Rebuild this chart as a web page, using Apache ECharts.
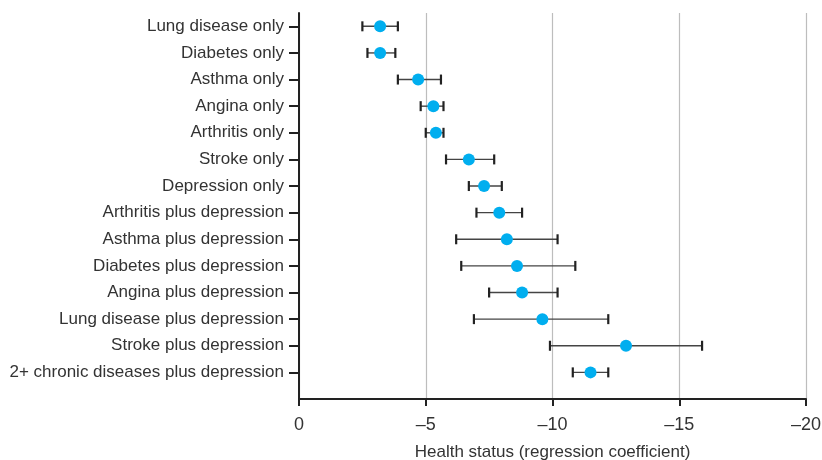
<!DOCTYPE html>
<html>
<head>
<meta charset="utf-8">
<script src="https://cdn.jsdelivr.net/npm/echarts@6/dist/echarts.min.js"></script>
<style>html,body{margin:0;padding:0;background:#fff}#c{width:822px;height:460px}</style>
</head>
<body>
<div id="c"></div>
<script>
const categories = [
  'Lung disease only','Diabetes only','Asthma only','Angina only','Arthritis only',
  'Stroke only','Depression only','Arthritis plus depression','Asthma plus depression',
  'Diabetes plus depression','Angina plus depression','Lung disease plus depression',
  'Stroke plus depression','2+ chronic diseases plus depression'
];
const estimate = [-3.2, -3.2, -4.7, -5.3, -5.4, -6.7, -7.3, -7.9, -8.2, -8.6, -8.8, -9.6, -12.9, -11.5];
const lowerCI  = [-2.5, -2.7, -3.9, -4.8, -5.0, -5.8, -6.7, -7.0, -6.2, -6.4, -7.5, -6.9, -9.9, -10.8];
const upperCI  = [-3.9, -3.8, -5.6, -5.7, -5.7, -7.7, -8.0, -8.8, -10.2, -10.9, -10.2, -12.2, -15.9, -12.2];
const xTicks = [0, -5, -10, -15, -20];

// half-step category slots so the axis has a half-band on top and a full band below
const slots = [''];
categories.forEach(c => { slots.push(c); slots.push(''); });
slots.push('');
const slotOf = i => 2 * i + 1;

const FONT = '"Liberation Sans Narrow", "Liberation Sans", sans-serif';
const chart = echarts.init(document.getElementById('c'));
chart.setOption({
  animation: false,
  grid: { left: 299, right: 16, top: 13, bottom: 61, containLabel: false, outerBoundsMode: 'none' },
  xAxis: {
    type: 'value', inverse: true, min: -20, max: 0, interval: 5,
    name: 'Health status (regression coefficient)',
    nameLocation: 'middle', nameGap: 45,
    nameTextStyle: { fontFamily: FONT, fontSize: 17, color: '#333' },
    axisLine: { show: true, lineStyle: { color: '#222', width: 2 } },
    axisTick: { show: true, length: 7, lineStyle: { color: '#222', width: 2 } },
    axisLabel: { fontFamily: FONT, fontSize: 18, color: '#333', margin: 17,
      formatter: v => (xTicks.includes(v) ? String(v).replace('-', '\u2013') : '') },
    splitLine: { show: true, lineStyle: { color: '#bdbdbd', width: 1.2 } }
  },
  yAxis: {
    type: 'category', data: slots, boundaryGap: false, inverse: true,
    axisLine: { show: true, lineStyle: { color: '#222', width: 2 } },
    axisTick: { show: true, length: 10, interval: (i, v) => v !== '', lineStyle: { color: '#222', width: 2 } },
    axisLabel: { interval: (i, v) => v !== '', fontFamily: FONT, fontSize: 17, color: '#333', margin: 15 },
    splitLine: { show: false }
  },
  series: [
    {
      type: 'custom',
      data: categories.map((c, i) => [lowerCI[i], upperCI[i], slotOf(i)]),
      encode: { x: [0, 1], y: 2 },
      z: 2,
      renderItem: (params, api) => {
        const y = api.value(2);
        const a = api.coord([api.value(0), y]);
        const b = api.coord([api.value(1), y]);
        const h = 5;
        return { type: 'group', children: [
          { type: 'line', shape: { x1: a[0], y1: a[1], x2: b[0], y2: b[1] }, style: { stroke: '#444', lineWidth: 1.4 } },
          { type: 'line', shape: { x1: a[0], y1: a[1] - h, x2: a[0], y2: a[1] + h }, style: { stroke: '#222', lineWidth: 2.2 } },
          { type: 'line', shape: { x1: b[0], y1: b[1] - h, x2: b[0], y2: b[1] + h }, style: { stroke: '#222', lineWidth: 2.2 } }
        ] };
      }
    },
    {
      type: 'scatter',
      data: categories.map((c, i) => [estimate[i], slotOf(i)]),
      symbol: 'circle', symbolSize: 12, z: 3,
      itemStyle: { color: '#00aeef', opacity: 1 }
    }
  ]
});
</script>
</body>
</html>
